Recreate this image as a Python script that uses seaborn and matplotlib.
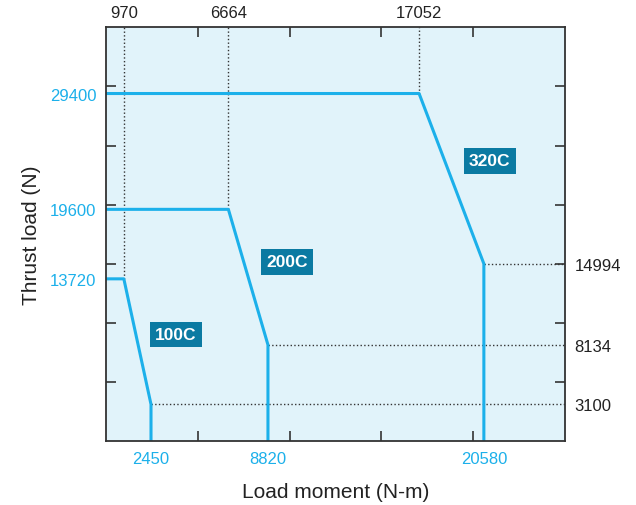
import pandas as pd
import seaborn as sns
import matplotlib.pyplot as plt

# Load envelope corner points for each model
models = ['100C', '200C', '320C']
moment_100 = [0, 970, 2450, 2450]
thrust_100 = [13720, 13720, 3100, 0]
moment_200 = [0, 6664, 8820, 8820]
thrust_200 = [19600, 19600, 8134, 0]
moment_320 = [0, 17052, 20580, 20580]
thrust_320 = [29400, 29400, 14994, 0]

# Tick labels
bottom_ticks = [2450, 8820, 20580]
top_ticks = [970, 6664, 17052]
left_ticks = [13720, 19600, 29400]
right_ticks = [3100, 8134, 14994]

# Label box positions (data coords)
label_x = [3800, 9850, 20900]
label_y = [9000, 15150, 23700]

frames = []
for name, mx, ty in zip(models, [moment_100, moment_200, moment_320],
                        [thrust_100, thrust_200, thrust_320]):
    frames.append(pd.DataFrame({'moment': mx, 'thrust': ty, 'model': name,
                                'order': range(len(mx))}))
df = pd.concat(frames, ignore_index=True)

LINE = '#1cb0ea'
BG = '#e1f3fa'
BOX = '#0b7aa2'
DARK = '#333333'

sns.set_style('white')
plt.rcParams['font.family'] = ['Liberation Sans', 'DejaVu Sans']

fig = plt.figure(figsize=(6.36, 5.06), dpi=100)
ax = fig.add_axes([0.1667, 0.1265, 0.7217, 0.8175])
ax.set_facecolor(BG)

XMAX, YMAX = 25000, 35000

# dotted guide lines
for mx, ty in zip([moment_100, moment_200, moment_320],
                  [thrust_100, thrust_200, thrust_320]):
    ax.plot([mx[1], mx[1]], [ty[1], YMAX], ls=':', color=DARK, lw=1)
    ax.plot([mx[2], XMAX], [ty[2], ty[2]], ls=':', color=DARK, lw=1)

sns.lineplot(data=df, x='moment', y='thrust', hue='model', units='model',
             estimator=None, sort=False, palette=[LINE] * 3, lw=2.2,
             legend=False, ax=ax)

for name, lx, ly in zip(models, label_x, label_y):
    ax.text(lx, ly, name, color='white', fontsize=12.5, fontweight='bold',
            ha='center', va='center',
            bbox=dict(boxstyle='square,pad=0.3', fc=BOX, ec='none'))

ax.set_xlim(0, XMAX)
ax.set_ylim(0, YMAX)

major_x = list(range(5000, XMAX, 5000))
major_y = list(range(5000, YMAX, 5000))

ax.set_xticks(major_x)
ax.set_xticklabels([])
ax.set_xticks(bottom_ticks, minor=True)
ax.set_xticklabels([str(v) for v in bottom_ticks], minor=True)
ax.set_yticks(major_y)
ax.set_yticklabels([])
ax.set_yticks(left_ticks, minor=True)
ax.set_yticklabels([str(v) for v in left_ticks], minor=True)
ax.tick_params(which='major', direction='in', length=7, width=1.2,
               color=DARK, top=True, right=True, bottom=True, left=True)
ax.tick_params(which='minor', length=0, labelsize=12, labelcolor=LINE,
               pad=7)

secx = ax.secondary_xaxis('top')
secx.set_xticks(top_ticks)
secx.set_xticklabels([str(v) for v in top_ticks])
secx.tick_params(length=0, labelsize=12, labelcolor='#222222', pad=5)
secy = ax.secondary_yaxis('right')
secy.set_yticks(right_ticks)
secy.set_yticklabels([str(v) for v in right_ticks])
secy.tick_params(length=0, labelsize=12, labelcolor='#222222', pad=7)
for s in list(secx.spines.values()) + list(secy.spines.values()):
    s.set_visible(False)

for s in ax.spines.values():
    s.set_color(DARK)
    s.set_linewidth(1.3)

ax.set_xlabel('Load moment (N-m)', fontsize=15, color='#222222', labelpad=12)
ax.set_ylabel('Thrust load (N)', fontsize=15, color='#222222', labelpad=6)

fig.savefig('out.png', dpi=100)
